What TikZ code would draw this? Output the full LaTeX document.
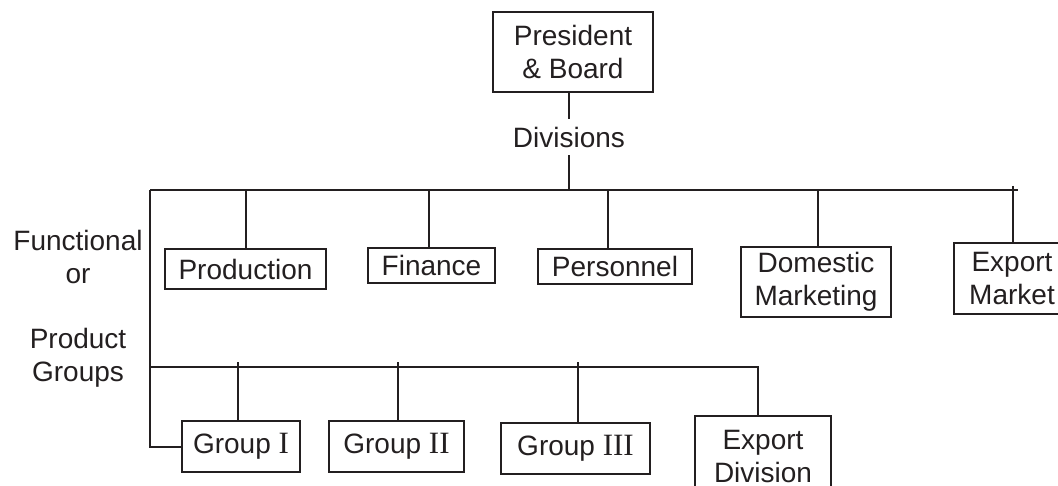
\documentclass[tikz,border=0pt]{standalone}
\usepackage{fontspec}
\setmainfont{Liberation Sans}
\newfontfamily\numfont{Liberation Serif}
\definecolor{ink}{HTML}{231F20}
% roman numerals of the product groups, set in a serif face
\newcommand{\grpnum}[1]{{\numfont\fontsize{15.5}{16.5}\selectfont #1}}
\begin{document}
\begin{tikzpicture}[x=0.5pt,y=-0.5pt,
  every node/.style={font=\fontsize{14}{16.5}\selectfont, text=ink, inner sep=0pt, align=center},
  unit/.style={draw=ink, line width=1pt},
  lbl/.style={},
  link/.style={draw=ink, line width=1pt}]
\useasboundingbox (0,0) rectangle (1058,486);

% top of the hierarchy
\node[unit, minimum width=80pt, minimum height=40pt] (pres) at (573,52) {President\\\& Board};
\node[lbl, inner ysep=3.8pt] (div) at (569,137) {Divisions};

% side captions
\node[lbl] (func) at (78,257) {Functional\\or};
\node[lbl] (prodgrp) at (78,358) {Product\\Groups};

% functional divisions
\node[unit, minimum width=80.5pt, minimum height=20pt] (prod) at (245.5,269) {Production};
\node[unit, minimum width=63.5pt, minimum height=17.5pt] (fin) at (431.5,265.5) {Finance};
\node[unit, minimum width=77pt, minimum height=17.5pt] (pers) at (615,266.5) {Personnel};
\node[unit, minimum width=75pt, minimum height=35pt] (dom) at (816,282) {Domestic\\Marketing};
\node[unit, minimum width=58pt, minimum height=35.5pt] (expm) at (1012,278.5) {Export\\Market};

% product groups
\node[unit, minimum width=59pt, minimum height=25.5pt] (grp1) at (241,446.5) {Group \grpnum{I}};
\node[unit, minimum width=67.5pt, minimum height=25.5pt] (grp2) at (396.5,446.5) {Group \grpnum{II}};
\node[unit, minimum width=74.5pt, minimum height=25.5pt] (grp3) at (575.5,448.5) {Group \grpnum{III}};
\node[unit, minimum width=68pt, minimum height=40pt] (expd) at (763,456) {Export\\Division};

% bus bars and drop points
\coordinate (barL) at (150,190);
\coordinate (barR) at (1018,190);
\coordinate (lowL) at (150,367);
\coordinate (lowR) at (759,367);
\coordinate (dProd) at (245.5,190);
\coordinate (dFin) at (429,190);
\coordinate (dPers) at (608,190);
\coordinate (dDom) at (818,190);
\coordinate (dExpM) at (1013,186);
\coordinate (dG1) at (238,362);
\coordinate (dG2) at (398,362);
\coordinate (dG3) at (578,362);
\coordinate (dExpD) at (758,367);

% connectors
\draw[link] (pres.south -| div.north) -- (div.north);
\draw[link] (div.south) -- (div.south |- barL);
\draw[link] (barL) -- (barR);
\draw[link] (dProd) -- (dProd |- prod.north);
\draw[link] (dFin) -- (dFin |- fin.north);
\draw[link] (dPers) -- (dPers |- pers.north);
\draw[link] (dDom) -- (dDom |- dom.north);
\draw[link] (dExpM) -- (dExpM |- expm.north);
\draw[link] (barL) -- (barL |- grp1.west) -- (grp1.west);
\draw[link] (lowL) -- (lowR);
\draw[link] (dG1) -- (dG1 |- grp1.north);
\draw[link] (dG2) -- (dG2 |- grp2.north);
\draw[link] (dG3) -- (dG3 |- grp3.north);
\draw[link] (dExpD) -- (dExpD |- expd.north);
\end{tikzpicture}
\end{document}
